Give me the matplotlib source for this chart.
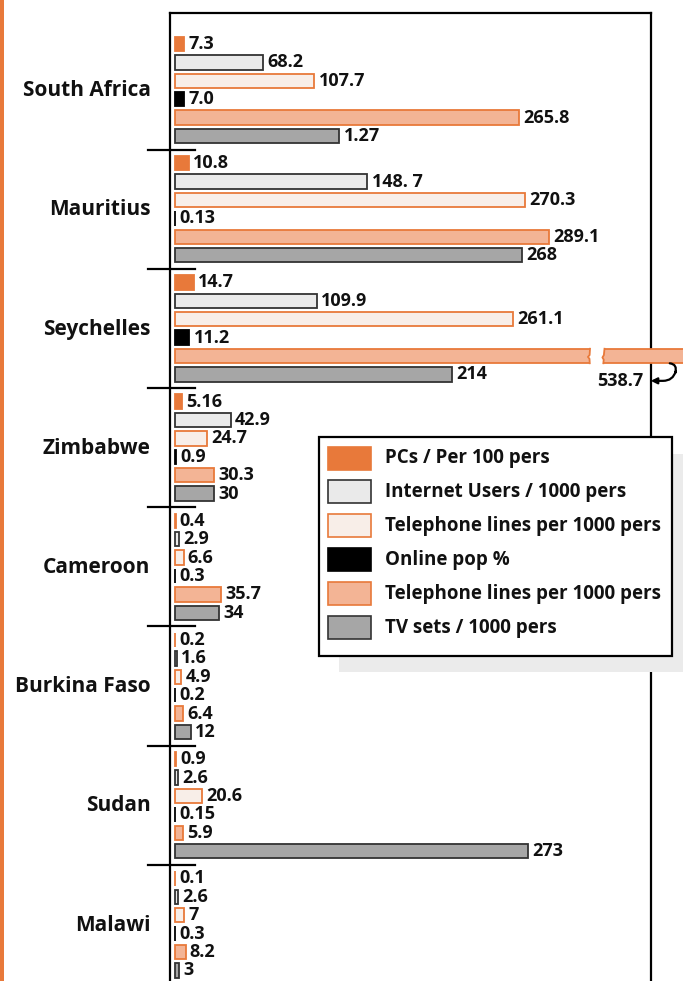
import numpy as np
import matplotlib
matplotlib.use("Agg")
import matplotlib.pyplot as plt
from matplotlib.patches import Rectangle, Polygon

plt.rcParams['font.family'] = ['Open Sans', 'DejaVu Sans']

countries = ["South Africa", "Mauritius", "Seychelles", "Zimbabwe",
             "Cameroon", "Burkina Faso", "Sudan", "Malawi"]

series_names = ["PCs / Per 100 pers", "Internet Users / 1000 pers",
                "Telephone lines per 1000 pers", "Online pop %",
                "Telephone lines per 1000 pers", "TV sets / 1000 pers"]

pcs = [7.3, 10.8, 14.7, 5.16, 0.4, 0.2, 0.9, 0.1]
pcs_txt = ["7.3", "10.8", "14.7", "5.16", "0.4", "0.2", "0.9", "0.1"]
internet = [68.2, 148.7, 109.9, 42.9, 2.9, 1.6, 2.6, 2.6]
internet_txt = ["68.2", "148. 7", "109.9", "42.9", "2.9", "1.6", "2.6", "2.6"]
tel_a = [107.7, 270.3, 261.1, 24.7, 6.6, 4.9, 20.6, 7]
tel_a_txt = ["107.7", "270.3", "261.1", "24.7", "6.6", "4.9", "20.6", "7"]
online = [7.0, 0.13, 11.2, 0.9, 0.3, 0.2, 0.15, 0.3]
online_txt = ["7.0", "0.13", "11.2", "0.9", "0.3", "0.2", "0.15", "0.3"]
tel_b = [265.8, 289.1, 538.7, 30.3, 35.7, 6.4, 5.9, 8.2]
tel_b_txt = ["265.8", "289.1", "", "30.3", "35.7", "6.4", "5.9", "8.2"]
tv = [127, 268, 214, 30, 34, 12, 273, 3]
tv_txt = ["1.27", "268", "214", "30", "34", "12", "273", "3"]

ORANGE = "#E8793A"
styles = [
    (ORANGE, ORANGE),
    ("#EAEAEA", "#333333"),
    ("#F8EEE8", ORANGE),
    ("#000000", "#000000"),
    ("#F3B495", ORANGE),
    ("#A6A6A6", "#333333"),
]
data = [(pcs, pcs_txt), (internet, internet_txt), (tel_a, tel_a_txt),
        (online, online_txt), (tel_b, tel_b_txt), (tv, tv_txt)]

W, H = 683, 981
fig = plt.figure(figsize=(W / 100, H / 100), dpi=100)

# axes: left spine at x=170, right at 650, top at 13 px
top_px = 13.3
ax = fig.add_axes([170 / W, 0, (650.5 - 170) / W, (H - top_px) / H])

px_per_unit = 1.294
row_px = 18.4
base_px = 44.0
group_pitch = 119.2 / row_px
group_y = np.arange(len(countries)) * group_pitch

ax.set_xlim(-5 / px_per_unit, (650.5 - 175) / px_per_unit)
ax.set_ylim((H - base_px) / row_px, (top_px - base_px) / row_px)

lab_font = dict(fontsize=13, fontweight='bold', color='#111111')

bar_h = 14.5 / row_px
containers = []
for i, ((vals, txt), (fc, ec)) in enumerate(zip(data, styles)):
    bars = ax.barh(group_y + i, vals, height=bar_h, color=fc, edgecolor=ec,
                   linewidth=1.3, zorder=3)
    ax.bar_label(bars, labels=txt, padding=3, **lab_font)
    containers.append(bars)

# broken bar for Seychelles (538.7)
brk = containers[4][2]
brk.set_clip_on(False)
yc = group_y[2] + 4
hh = bar_h / 2
x1 = (590 - 175) / px_per_unit
x2 = (604.5 - 175) / px_per_unit
left_edge = [(x1, yc - hh), (x1 - 0.3, yc - 0.05), (x1 - 1.6, yc + 0.05),
             (x1 - 0.4, yc + 0.15), (x1 - 0.2, yc + hh)]
right_edge = [(x2, yc - hh), (x2 - 0.5, yc - 0.05), (x2 - 1.6, yc + 0.08),
              (x2 - 0.6, yc + 0.2), (x2 - 0.9, yc + hh)]
gap = [(left_edge[0][0], yc - hh - 0.15)] + left_edge + \
      [(left_edge[-1][0], yc + hh + 0.15), (right_edge[-1][0], yc + hh + 0.15)] + \
      right_edge[::-1] + [(right_edge[0][0], yc - hh - 0.15)]
ax.add_patch(Polygon(gap, closed=True, facecolor='white', edgecolor='none',
                     zorder=4, clip_on=False))
for edge in (left_edge, right_edge):
    ex, ey = zip(*edge)
    ax.plot(ex, ey, color=ORANGE, lw=1.3, zorder=5, clip_on=False)

# curved arrow to the 538.7 label
tail = ((667 - 175) / px_per_unit, yc + hh)
head = ((648 - 175) / px_per_unit, group_y[2] + 5 + 0.35)
ax.annotate('', xy=head, xytext=tail, annotation_clip=False,
            arrowprops=dict(arrowstyle='-|>', color='black', lw=1.6,
                            mutation_scale=9,
                            connectionstyle='arc,angleA=0,angleB=0,armA=11,armB=25,rad=10'))
ax.text(head[0] - 5 / px_per_unit, head[1], "538.7", ha='right', va='center', **lab_font)

# category separators
for g in range(len(countries) - 1):
    ys = group_y[g] + 5 + (group_pitch - 5) / 2
    ax.plot([-0.0456, 0.052], [ys, ys], color='black', lw=1.6,
            transform=ax.get_yaxis_transform(), clip_on=False, zorder=5)

ax.set_yticks(group_y + 2.4)
ax.set_yticklabels(countries, fontsize=15, fontweight='bold', color='#111111')
ax.tick_params(axis='y', length=0, pad=14)
ax.set_xticks([])
ax.spines['bottom'].set_visible(False)
for s in ('left', 'right', 'top'):
    ax.spines[s].set_linewidth(1.6)

# orange stripe on the far left
fig.patches.append(Rectangle((0, 0), 4 / W, 1, transform=fig.transFigure,
                             facecolor=ORANGE, edgecolor='none', zorder=1))


def fig_rect(x0, y0, x1, y1, **kw):
    return Rectangle((x0 / W, 1 - y1 / H), (x1 - x0) / W, (y1 - y0) / H,
                     transform=fig.transFigure, **kw)


# legend with shadow
fig.patches.append(fig_rect(339, 454, 690, 672, facecolor='#EBEBEB',
                            edgecolor='none', zorder=2))
fig.patches.append(fig_rect(319, 437, 672, 656, facecolor='white',
                            edgecolor='black', lw=1.6, zorder=3))
for k, (name, (fc, ec)) in enumerate(zip(series_names, styles)):
    cy = 458 + k * 33.9
    fig.patches.append(fig_rect(327.5, cy - 11.5, 371.5, cy + 11.5, facecolor=fc,
                                edgecolor=ec, lw=1.2, zorder=4))
    fig.text(385 / W, 1 - cy / H, name, ha='left', va='center', fontsize=13.5,
             fontweight='bold', color='#111111', zorder=5)

fig.savefig("out.png", dpi=100)
